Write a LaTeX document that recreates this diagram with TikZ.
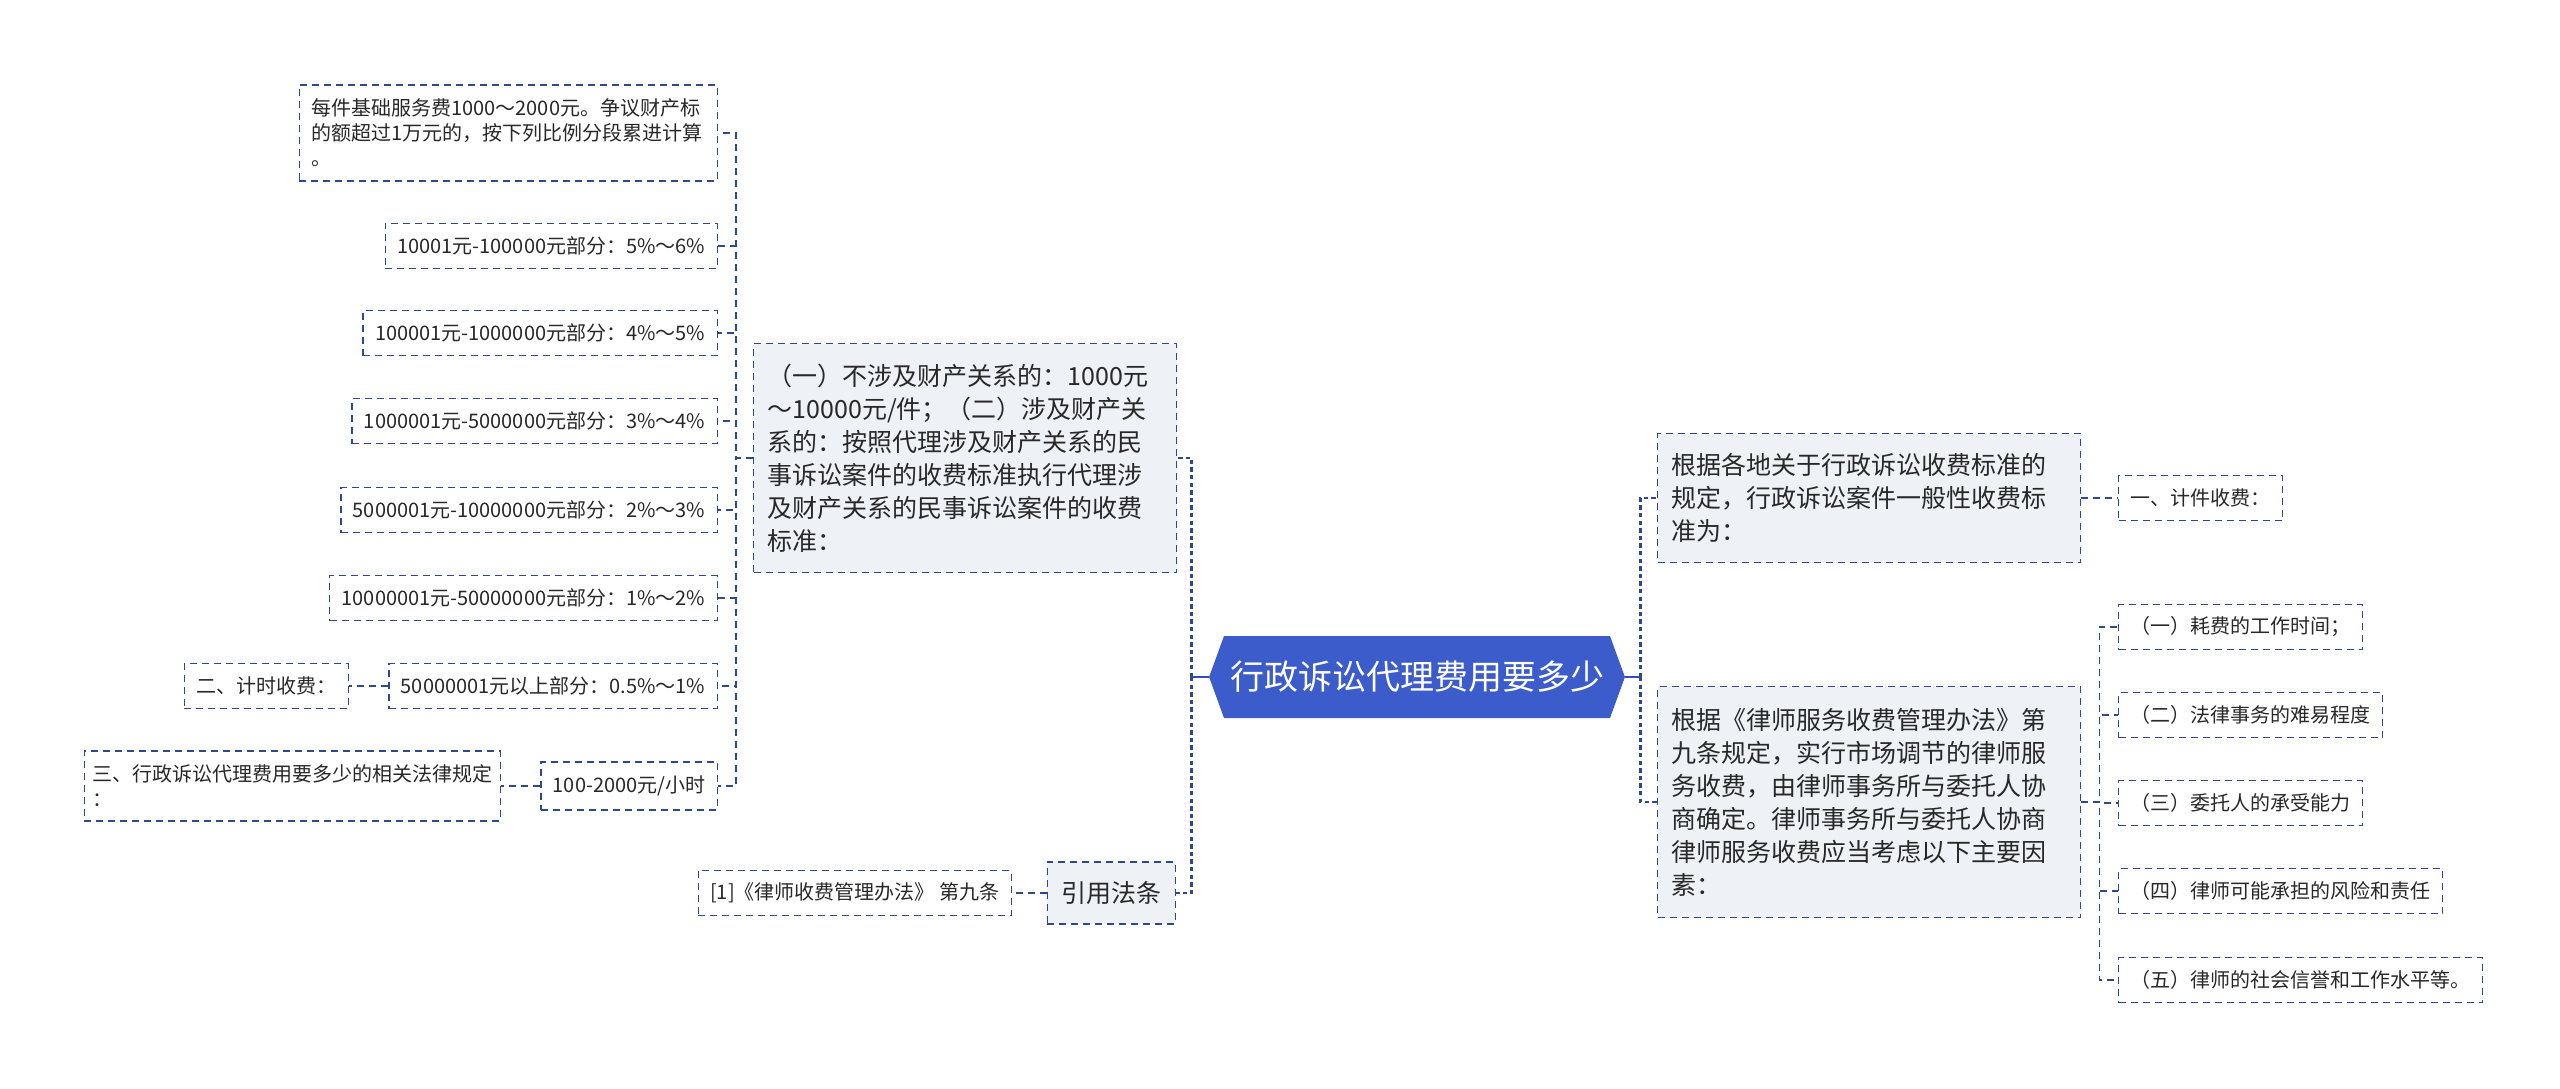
\documentclass[tikz,border=0pt]{standalone}
\usepackage{fontspec}
\setmainfont{Noto Sans CJK SC}
\usetikzlibrary{shapes.symbols}
\definecolor{linec}{RGB}{46,72,138}
\definecolor{rootc}{RGB}{60,92,204}
\definecolor{boxc}{RGB}{238,241,246}
\definecolor{textc}{RGB}{40,40,40}

\begin{document}
\begin{tikzpicture}[x=0.5pt, y=-0.5pt,
    leaf/.style={draw=linec, line width=0.7pt, dash pattern=on 3.5pt off 2.5pt, fill=white, text=textc,
        inner xsep=6pt, minimum height=22.5pt, font=\fontsize{10}{12.5}\selectfont},
    note/.style={leaf, fill=boxc, inner xsep=7pt, align=left, font=\fontsize{12.5}{16.5}\selectfont},
    topic/.style={shape=signal, signal to=west and east, signal pointer angle=140, fill=rootc, text=white,
        minimum height=41pt, inner xsep=3pt, font=\fontsize{17}{20}\selectfont},
    link/.style={draw=linec, line width=0.7pt, dash pattern=on 3.5pt off 2.5pt},
    bus/.style={draw=linec, line width=1.4pt, dash pattern=on 2.2pt off 1.6pt},
    stem/.style={draw=rootc!85!black, line width=1.4pt}]
    \useasboundingbox (0,0) rectangle (2560,1088);

    % Nodes
    \node[topic] (root) at (1417,677) {行政诉讼代理费用要多少};

    \node[note, anchor=west, text width=197.5pt, minimum height=114.5pt] (p1) at (753,458)
        {（一）不涉及财产关系的：1000元\\～10000元/件；（二）涉及财产关\\系的：按照代理涉及财产关系的民\\事诉讼案件的收费标准执行代理涉\\及财产关系的民事诉讼案件的收费\\标准：};
    \node[note, anchor=east, minimum height=31pt] (law) at (1176,893) {引用法条};
    \node[leaf, anchor=east] (ref) at (1012,893) {[1]《律师收费管理办法》 第九条};

    \node[leaf, anchor=east, align=left, text width=197pt, minimum height=48pt] (n1) at (718,133)
        {每件基础服务费1000～2000元。争议财产标\\的额超过1万元的，按下列比例分段累进计算\\。};
    \node[leaf, anchor=east] (n2) at (718,246) {10001元-100000元部分：5\%～6\%};
    \node[leaf, anchor=east] (n3) at (718,333) {100001元-1000000元部分：4\%～5\%};
    \node[leaf, anchor=east] (n4) at (718,421) {1000001元-5000000元部分：3\%～4\%};
    \node[leaf, anchor=east] (n5) at (718,510) {5000001元-10000000元部分：2\%～3\%};
    \node[leaf, anchor=east] (n6) at (718,598) {10000001元-50000000元部分：1\%～2\%};
    \node[leaf, anchor=east] (n7) at (718,686) {50000001元以上部分：0.5\%～1\%};
    \node[leaf, anchor=east] (n8) at (349,686) {二、计时收费：};
    \node[leaf, anchor=east, minimum height=24pt] (n9) at (718,786) {100-2000元/小时};
    \node[leaf, anchor=east, align=left, inner xsep=4pt, text width=200pt, minimum height=35pt] (n10) at (501,786)
        {三、行政诉讼代理费用要多少的相关法律规定\\：};

    \node[note, anchor=west, text width=197.5pt, minimum height=64.5pt] (r1) at (1657,498)
        {根据各地关于行政诉讼收费标准的\\规定，行政诉讼案件一般性收费标\\准为：};
    \node[leaf, anchor=west] (pay) at (2118,498) {一、计件收费：};
    \node[note, anchor=west, text width=197.5pt, minimum height=115.5pt] (r2) at (1657,802)
        {根据《律师服务收费管理办法》第\\九条规定，实行市场调节的律师服\\务收费，由律师事务所与委托人协\\商确定。律师事务所与委托人协商\\律师服务收费应当考虑以下主要因\\素：};
    \node[leaf, anchor=west] (f1) at (2118,627) {（一）耗费的工作时间；};
    \node[leaf, anchor=west] (f2) at (2118,715) {（二）法律事务的难易程度};
    \node[leaf, anchor=west] (f3) at (2118,803) {（三）委托人的承受能力};
    \node[leaf, anchor=west] (f4) at (2118,891) {（四）律师可能承担的风险和责任};
    \node[leaf, anchor=west] (f5) at (2118,980) {（五）律师的社会信誉和工作水平等。};

    % Edges
    \draw[stem] (root.west) -- ++(-17,0) coordinate (lb);
    \draw[bus] (lb) |- (p1.east);
    \draw[bus] (lb) |- (law.east);
    \draw[stem] (root.east) -- ++(15,0) coordinate (rb);
    \draw[bus] (rb) |- (r1.west);
    \draw[bus] (rb) |- (r2.west);

    \draw[link] (p1.west) -- ++(-17,0) |- (n1.east);
    \draw[link] (p1.west) -- ++(-17,0) |- (n2.east);
    \draw[link] (p1.west) -- ++(-17,0) |- (n3.east);
    \draw[link] (p1.west) -- ++(-17,0) |- (n4.east);
    \draw[link] (p1.west) -- ++(-17,0) |- (n5.east);
    \draw[link] (p1.west) -- ++(-17,0) |- (n6.east);
    \draw[link] (p1.west) -- ++(-17,0) |- (n7.east);
    \draw[link] (p1.west) -- ++(-17,0) |- (n9.east);
    \draw[link] (n7.west) -- (n8.east);
    \draw[link] (n9.west) -- (n10.east);
    \draw[link] (law.west) -- (ref.east);

    \draw[link] (r1.east) -- (pay.west);
    \draw[link] (r2.east) -- ++(18,0) |- (f1.west);
    \draw[link] (r2.east) -- ++(18,0) |- (f2.west);
    \draw[link] (r2.east) -- ++(18,0) |- (f3.west);
    \draw[link] (r2.east) -- ++(18,0) |- (f4.west);
    \draw[link] (r2.east) -- ++(18,0) |- (f5.west);
\end{tikzpicture}
\end{document}
